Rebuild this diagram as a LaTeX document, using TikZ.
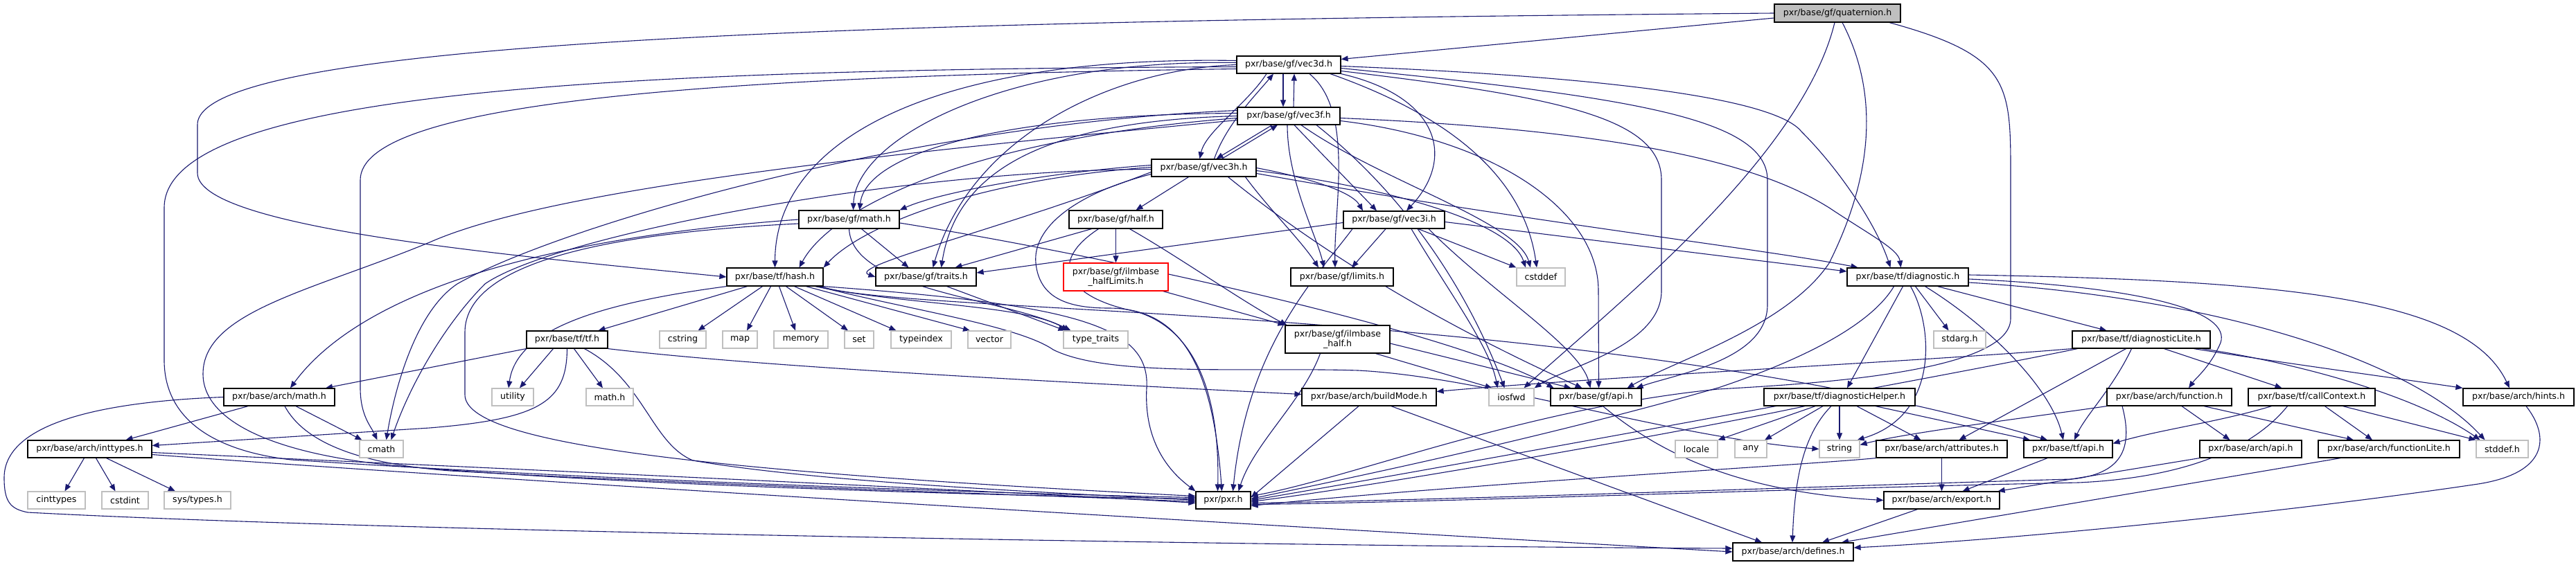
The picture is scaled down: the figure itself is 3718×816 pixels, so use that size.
\documentclass[tikz,border=0pt]{standalone}
\usepackage{fontspec}
\setmainfont{DejaVu Sans}
\usetikzlibrary{arrows.meta}
\definecolor{edgec}{RGB}{25,25,112}
\definecolor{sysgray}{RGB}{191,191,191}
\definecolor{redb}{RGB}{255,0,0}
\newcommand\dgf{\fontsize{12.6}{14.5}\selectfont}
\pgfdeclarelayer{bglayer}
\pgfdeclarelayer{edgelayer}
\pgfsetlayers{bglayer,edgelayer,main}
\begin{document}
\begin{tikzpicture}[x=1pt,y=-1pt,
  box/.style={draw=black,line width=1.2pt,fill=white,inner sep=0pt,font=\dgf,align=center,text=black},
  sys/.style={box,draw=sysgray},
  redbox/.style={box,draw=redb},
  root/.style={box,fill=sysgray},
  e/.style={draw=edgec,line width=1.1pt,-{Triangle[length=10pt,width=8pt]}}]
\begin{pgfonlayer}{bglayer}
\fill[white] (0,0) rectangle (3718,816);
\end{pgfonlayer}
\useasboundingbox (0,0) rectangle (3718,816);
% nodes
\node[root,minimum width=182pt,minimum height=26pt] (Q) at (2652,19) {pxr/base/gf/quaternion.h};
\node[box,minimum width=150pt,minimum height=25pt] (vd) at (1860,93.5) {pxr/base/gf/vec3d.h};
\node[box,minimum width=148pt,minimum height=25pt] (vf) at (1860,167.5) {pxr/base/gf/vec3f.h};
\node[box,minimum width=151pt,minimum height=25pt] (vh) at (1737.5,242.5) {pxr/base/gf/vec3h.h};
\node[box,minimum width=145pt,minimum height=26pt] (gm) at (1225.5,317) {pxr/base/gf/math.h};
\node[box,minimum width=135pt,minimum height=26pt] (half) at (1610.5,317) {pxr/base/gf/half.h};
\node[box,minimum width=146pt,minimum height=25pt] (vi) at (2012,317.5) {pxr/base/gf/vec3i.h};
\node[box,minimum width=139pt,minimum height=26pt] (hash) at (1118.5,400) {pxr/base/tf/hash.h};
\node[box,minimum width=145pt,minimum height=26pt] (tr) at (1336.5,400) {pxr/base/gf/traits.h};
\node[redbox,minimum width=151pt,minimum height=40pt] (hl) at (1610.5,400) {pxr/base/gf/ilmbase\\\_halfLimits.h};
\node[box,minimum width=148pt,minimum height=26pt] (lim) at (1937,400) {pxr/base/gf/limits.h};
\node[sys,minimum width=70pt,minimum height=26pt] (csd) at (2224,400) {cstddef};
\node[box,minimum width=175pt,minimum height=26pt] (diag) at (2753.5,400) {pxr/base/tf/diagnostic.h};
\node[box,minimum width=117pt,minimum height=25pt] (tf) at (818.5,490.5) {pxr/base/tf/tf.h};
\node[sys,minimum width=67pt,minimum height=25pt] (cstr) at (985.5,490.5) {cstring};
\node[sys,minimum width=50pt,minimum height=25pt] (map) at (1068,490.5) {map};
\node[sys,minimum width=78pt,minimum height=25pt] (mem) at (1156,490.5) {memory};
\node[sys,minimum width=42pt,minimum height=25pt] (set) at (1240,490.5) {set};
\node[sys,minimum width=87pt,minimum height=25pt] (tid) at (1329.5,490.5) {typeindex};
\node[sys,minimum width=62pt,minimum height=25pt] (vec) at (1428,490.5) {vector};
\node[sys,minimum width=93pt,minimum height=25pt] (tt) at (1581.5,490.5) {type\_traits};
\node[box,minimum width=151pt,minimum height=40pt] (ih) at (1930.5,490) {pxr/base/gf/ilmbase\\\_half.h};
\node[sys,minimum width=75pt,minimum height=25pt] (stdarg) at (2828.5,490.5) {stdarg.h};
\node[box,minimum width=199pt,minimum height=25pt] (dl) at (3090.5,490.5) {pxr/base/tf/diagnosticLite.h};
\node[box,minimum width=160pt,minimum height=25pt] (am) at (403,573.5) {pxr/base/arch/math.h};
\node[sys,minimum width=60pt,minimum height=25pt] (util) at (740,573.5) {utility};
\node[sys,minimum width=68pt,minimum height=25pt] (mathh) at (880,573.5) {math.h};
\node[box,minimum width=194pt,minimum height=25pt] (bm) at (1976,573.5) {pxr/base/arch/buildMode.h};
\node[sys,minimum width=65pt,minimum height=25pt] (iosfwd) at (2181.5,573.5) {iosfwd};
\node[box,minimum width=131pt,minimum height=25pt] (gapi) at (2303.5,573.5) {pxr/base/gf/api.h};
\node[box,minimum width=218pt,minimum height=25pt] (dh) at (2655,573.5) {pxr/base/tf/diagnosticHelper.h};
\node[box,minimum width=180pt,minimum height=25pt] (func) at (3131,573.5) {pxr/base/arch/function.h};
\node[box,minimum width=183pt,minimum height=25pt] (cc) at (3336.5,573.5) {pxr/base/tf/callContext.h};
\node[box,minimum width=160pt,minimum height=25pt] (hints) at (3635,573.5) {pxr/base/arch/hints.h};
\node[box,minimum width=179pt,minimum height=25pt] (it) at (129.5,648.5) {pxr/base/arch/inttypes.h};
\node[sys,minimum width=63pt,minimum height=25pt] (cmath) at (550.5,648.5) {cmath};
\node[sys,minimum width=61pt,minimum height=25pt] (locale) at (2448.5,648.5) {locale};
\node[sys,minimum width=46pt,minimum height=25pt] (any) at (2527,648.5) {any};
\node[sys,minimum width=58pt,minimum height=25pt] (str) at (2655,648.5) {string};
\node[box,minimum width=189pt,minimum height=25pt] (attr) at (2802.5,648.5) {pxr/base/arch/attributes.h};
\node[box,minimum width=128pt,minimum height=25pt] (tapi) at (2985,648.5) {pxr/base/tf/api.h};
\node[box,minimum width=147pt,minimum height=25pt] (aapi) at (3248.5,648.5) {pxr/base/arch/api.h};
\node[box,minimum width=204pt,minimum height=25pt] (fl) at (3448,648.5) {pxr/base/arch/functionLite.h};
\node[sys,minimum width=75pt,minimum height=25pt] (stddef) at (3611.5,648.5) {stddef.h};
\node[sys,minimum width=83pt,minimum height=25pt] (cit) at (81.5,722.5) {cinttypes};
\node[sys,minimum width=67pt,minimum height=25pt] (cstdint) at (180.5,722.5) {cstdint};
\node[sys,minimum width=96pt,minimum height=25pt] (st) at (285,722.5) {sys/types.h};
\node[box,minimum width=79pt,minimum height=25pt] (pxr) at (1765.5,722.5) {pxr/pxr.h};
\node[box,minimum width=167pt,minimum height=25pt] (exp) at (2802.5,722.5) {pxr/base/arch/export.h};
\node[box,minimum width=174pt,minimum height=26pt] (def) at (2588,797) {pxr/base/arch/defines.h};
\begin{pgfonlayer}{edgelayer}
% quaternion
\draw[e] (Q.west) .. controls (1300,30) and (285,55) .. (285,180) -- (285,250) .. controls (285,330) and (750,370) .. (hash.west);
\draw[e] ([yshift=-7pt]Q.west) -- ([yshift=8pt]vd.east);
\draw[e] ([xshift=-4pt]Q.south) .. controls (2600,230) and (2320,450) .. ([xshift=18pt]iosfwd.north);
\draw[e] ([xshift=7pt]Q.south) .. controls (2715,140) and (2700,260) .. (2640,380) .. controls (2580,470) and (2420,520) .. ([xshift=45pt]gapi.north);
\draw[e] ([xshift=75pt]Q.south) .. controls (2900,80) and (2902,120) .. (2902,250) -- (2902,460) .. controls (2902,540) and (2600,555) .. (2480,562) .. controls (2200,590) and (1950,690) .. ([yshift=6pt]pxr.east);
% vec3d
\draw[e] ([xshift=-8pt]vd.south) -- ([xshift=-8pt]vf.north);
\draw[e] ([xshift=-32pt]vd.south) .. controls (1800,150) and (1740,190) .. ([xshift=-6pt]vh.north);
\draw[e] (vd.south east) .. controls (2080,140) and (2100,230) .. ([xshift=18pt]vi.north);
\draw[e] ([xshift=30pt]vd.south) .. controls (1955,160) and (1925,300) .. ([xshift=-10pt]lim.north);
\draw[e] ([xshift=60pt]vd.south) .. controls (2100,170) and (2200,260) .. ([xshift=-6pt]csd.north);
\draw[e] ([yshift=-2pt]vd.east) .. controls (2300,110) and (2560,140) .. (2600,190) .. controls (2660,250) and (2710,330) .. ([xshift=-25pt]diag.north);
\draw[e] ([yshift=-5pt]vd.east) .. controls (2350,140) and (2551,170) .. (2551,260) -- (2551,440) .. controls (2551,520) and (2420,540) .. ([xshift=58pt]gapi.north);
\draw[e] ([yshift=-9pt]vd.east) .. controls (2250,140) and (2398,170) .. (2398,260) -- (2398,420) .. controls (2398,500) and (2260,530) .. (iosfwd.north east);
\draw[e] (vd.west) .. controls (1600,100) and (1400,200) .. ([xshift=10pt]tr.north);
\draw[e] ([yshift=3pt]vd.west) .. controls (1450,85) and (1235,200) .. ([xshift=6pt]gm.north);
\draw[e] ([yshift=6pt]vd.west) .. controls (1350,80) and (1119,200) .. (hash.north);
\draw[e] ([yshift=-3pt]vd.west) .. controls (900,100) and (237,130) .. (237,300) -- (237,520) .. controls (237,600) and (300,650) .. (420,664) .. controls (800,690) and (1400,712) .. ([yshift=4pt]pxr.west);
\draw[e] ([yshift=-6pt]vd.west) .. controls (1000,110) and (520,150) .. (520,260) -- (520,560) .. controls (520,600) and (535,615) .. ([xshift=-6pt]cmath.north);
% vec3f
\draw[e] ([xshift=7pt]vf.north) -- ([xshift=8pt]vd.south);
\draw[e] ([xshift=-24pt]vf.south) -- ([xshift=18pt]vh.north);
\draw[e] ([xshift=8pt]vf.south) -- ([xshift=-25pt]vi.north);
\draw[e] ([xshift=-2pt]vf.south) .. controls (1858,260) and (1900,340) .. ([xshift=-26pt]lim.north);
\draw[e] ([xshift=18pt]vf.south) .. controls (1990,260) and (2190,320) .. ([xshift=-15pt]csd.north);
\draw[e] ([yshift=-3pt]vf.east) .. controls (2400,190) and (2560,250) .. (2640,300) .. controls (2700,340) and (2740,360) .. ([xshift=-10pt]diag.north);
\draw[e] ([yshift=-7pt]vf.east) .. controls (2150,200) and (2307,300) .. (2307,420) -- ([xshift=4pt]gapi.north);
\draw[e] ([xshift=40pt]vf.south) .. controls (2050,300) and (2130,450) .. ([xshift=-10pt]iosfwd.north);
\draw[e] (vf.west) .. controls (1500,175) and (1380,250) .. ([xshift=22pt]tr.north);
\draw[e] ([yshift=4pt]vf.west) .. controls (1450,165) and (1250,220) .. ([xshift=15pt]gm.north);
\draw[e] ([yshift=-3pt]vf.west) .. controls (1400,200) and (1200,300) .. ([xshift=35pt]hash.north);
\draw[e] ([yshift=-6pt]vf.west) .. controls (1300,220) and (800,270) .. (620,350) .. controls (450,420) and (293,450) .. (293,540) .. controls (293,610) and (400,660) .. (600,675) .. controls (900,700) and (1400,715) .. ([yshift=2pt]pxr.west);
\draw[e] ([yshift=8pt]vf.west) .. controls (1300,180) and (800,330) .. (660,410) .. controls (600,450) and (570,560) .. ([xshift=7pt]cmath.north);
% vec3h
\draw[e] ([xshift=15pt]vh.north) .. controls (1770,180) and (1810,140) .. ([xshift=-22pt]vd.south);
\draw[e] ([xshift=26pt]vh.north) -- ([xshift=-16pt]vf.south);
\draw[e] (vh.east) .. controls (1880,255) and (1950,275) .. ([xshift=-45pt]vi.north);
\draw[e] ([xshift=60pt]vh.south) .. controls (1830,300) and (1880,350) .. ([xshift=-34pt]lim.north);
\draw[e] ([yshift=-4pt]vh.east) .. controls (2000,270) and (2180,320) .. ([xshift=-22pt]csd.north);
\draw[e] ([yshift=-8pt]vh.east) .. controls (2200,320) and (2550,360) .. ([xshift=-72pt]diag.north);
\draw[e] ([xshift=35pt]vh.south) .. controls (1950,400) and (2150,500) .. ([xshift=-20pt]gapi.north);
\draw[e] ([xshift=-22pt]vh.south) -- ([xshift=29pt]half.north);
\draw[e] ([yshift=-6pt]vh.west) .. controls (1450,330) and (1220,385) .. (tr.west);
\draw[e] ([yshift=4pt]vh.west) .. controls (1500,250) and (1350,280) .. (gm.north east);
\draw[e] ([yshift=1pt]vh.west) .. controls (1400,260) and (1240,330) .. (hash.north east);
\draw[e] ([yshift=-2pt]vh.west) .. controls (1300,245) and (800,340) .. (700,410) .. controls (640,470) and (590,560) .. ([xshift=14pt]cmath.north);
\draw[e] ([yshift=-9pt]vh.west) .. controls (1550,280) and (1490,330) .. (1495,380) .. controls (1500,430) and (1540,445) .. (1600,445) .. controls (1700,445) and (1750,520) .. ([xshift=-2pt]pxr.north);
% vec3i
\draw[e] ([xshift=-12pt]vi.south) -- ([xshift=14pt]lim.north);
\draw[e] ([xshift=35pt]vi.south) -- (csd.north west);
\draw[e] ([yshift=-3pt]vi.east) -- ([yshift=8pt]diag.west);
\draw[e] ([yshift=-4pt]vi.west) -- ([yshift=6pt]tr.east);
\draw[e] ([xshift=50pt]vi.south) .. controls (2150,420) and (2280,500) .. ([xshift=-8pt]gapi.north);
\draw[e] ([xshift=25pt]vi.south) .. controls (2090,420) and (2150,500) .. ([xshift=-20pt]iosfwd.north);
\draw[e] ([xshift=-60pt]vi.south) .. controls (1900,400) and (1800,500) .. ([xshift=14pt]pxr.north);
% gf/math
\draw[e] ([xshift=18pt]gm.south) -- ([xshift=-25pt]tr.north);
\draw[e] (gm.west) .. controls (700,350) and (500,450) .. ([xshift=16pt]am.north);
\draw[e] ([yshift=-6pt]gm.west) .. controls (800,340) and (671,400) .. (671,480) -- (671,570) .. controls (671,640) and (1000,680) .. ([yshift=6pt]pxr.west);
\draw[e] ([yshift=-5pt]gm.east) .. controls (1600,370) and (2100,480) .. ([xshift=-61pt]gapi.north);
\draw[e] (gm.south) .. controls (1230,420) and (1450,430) .. ([xshift=-36pt]tt.north);
% half
\draw[e] ([xshift=-35pt]half.south) -- ([xshift=42pt]tr.north);
\draw[e] (half.south) -- (hl.north);
\draw[e] ([xshift=20pt]half.south) .. controls (1700,370) and (1800,440) .. ([xshift=3pt]ih.north west);
\draw[e] ([xshift=-25pt]half.south) .. controls (1510,380) and (1540,430) .. (1640,450) .. controls (1740,480) and (1760,600) .. ([xshift=-8pt]pxr.north);
\draw[e] ([xshift=-8pt]hl.south east) -- (ih.north west);
% hash
\draw[e] ([xshift=-40pt]hash.south) -- ([xshift=45pt]tf.north);
\draw[e] ([xshift=-18pt]hash.south) -- ([xshift=22pt]cstr.north);
\draw[e] ([xshift=-6pt]hash.south) -- ([xshift=10pt]map.north);
\draw[e] ([xshift=6pt]hash.south) -- ([xshift=-8pt]mem.north);
\draw[e] ([xshift=16pt]hash.south) -- ([xshift=-16pt]set.north);
\draw[e] ([xshift=28pt]hash.south) -- ([xshift=-36pt]tid.north);
\draw[e] ([xshift=45pt]hash.south) -- ([xshift=-28pt]vec.north);
\draw[e] ([xshift=-12pt]hash.south east) .. controls (1300,440) and (1480,440) .. ([xshift=-40pt]tt.north);
\draw[e] ([xshift=-8pt]hash.south east) .. controls (1300,445) and (1470,470) .. (1520,505) .. controls (1600,545) and (1800,530) .. (1960,535) .. controls (2150,545) and (2400,630) .. (str.west);
\draw[e] ([xshift=-4pt]hash.south east) .. controls (1300,455) and (2300,440) .. ([xshift=-30pt]tapi.north);
\draw[e] (hash.south east) .. controls (1550,440) and (1660,470) .. (1655,560) .. controls (1650,650) and (1700,690) .. (pxr.north west);
\draw[e] (hash.south west) .. controls (850,440) and (745,480) .. ([xshift=-6pt]util.north);
\draw[e] ([xshift=30pt]tr.south) -- ([xshift=-44pt]tt.north);
% tf
\draw[e] ([xshift=-20pt]tf.south) -- ([xshift=10pt]util.north);
\draw[e] ([xshift=10pt]tf.south) -- ([xshift=-10pt]mathh.north);
\draw[e] (tf.south west) -- ([xshift=67pt]am.north);
\draw[e] (tf.south) .. controls (818,580) and (780,605) .. (620,618) -- ([yshift=5pt]it.east);
\draw[e] (tf.south east) .. controls (1100,530) and (1500,550) .. ([yshift=4pt]bm.west);
\draw[e] ([xshift=25pt]tf.south) .. controls (930,550) and (940,640) .. (1000,665) .. controls (1200,700) and (1600,715) .. (pxr.west);
% arch/math
\draw[e] ([xshift=-45pt]am.south) -- ([xshift=52pt]it.north);
\draw[e] ([xshift=24pt]am.south) -- ([xshift=-28pt]cmath.north);
\draw[e] ([xshift=8pt]am.south) .. controls (440,640) and (520,670) .. (650,680) .. controls (1000,700) and (1500,715) .. ([yshift=-2pt]pxr.west);
\draw[e] (am.west) .. controls (150,580) and (6,610) .. (6,690) .. controls (6,725) and (15,735) .. (40,740) .. controls (600,770) and (2000,790) .. ([yshift=5pt]def.west);
% inttypes
\draw[e] ([xshift=-8pt]it.south) -- ([xshift=12pt]cit.north);
\draw[e] ([xshift=9pt]it.south) -- ([xshift=-14pt]cstdint.north);
\draw[e] ([xshift=24pt]it.south) -- ([xshift=-32pt]st.north);
\draw[e] ([yshift=-5pt]it.east) .. controls (800,680) and (1500,712) .. ([yshift=-4pt]pxr.west);
\draw[e] ([yshift=-8pt]it.east) .. controls (800,700) and (2200,780) .. (def.west);
% buildMode, gf/api, ilmbase_half
\draw[e] ([xshift=-15pt]bm.south) -- ([yshift=4pt]pxr.east);
\draw[e] ([xshift=32pt]bm.south) -- ([xshift=-45pt]def.north);
\draw[e] ([xshift=10pt]gapi.south) .. controls (2390,650) and (2500,710) .. (exp.west);
\draw[e] ([xshift=-25pt]ih.south) .. controls (1880,580) and (1810,640) .. ([xshift=22pt]pxr.north);
\draw[e] ([xshift=55pt]ih.south) -- ([xshift=-28pt]iosfwd.north);
\draw[e] ([yshift=-6pt]ih.east) -- ([xshift=-36pt]gapi.north);
% diagnostic
\draw[e] ([xshift=-7pt]diag.south) -- ([xshift=11pt]dh.north);
\draw[e] ([xshift=4pt]diag.south) .. controls (2790,470) and (2800,600) .. ([xshift=-4pt]str.north east);
\draw[e] ([xshift=11pt]diag.south) -- ([xshift=-16pt]stdarg.north);
\draw[e] ([xshift=25pt]diag.south) .. controls (2870,470) and (2960,560) .. ([xshift=-7pt]tapi.north);
\draw[e] ([xshift=43pt]diag.south) -- ([xshift=-50pt]dl.north);
\draw[e] ([yshift=3pt]diag.east) .. controls (3300,405) and (3560,430) .. ([xshift=-13pt]hints.north);
\draw[e] ([yshift=-3pt]diag.east) .. controls (3100,415) and (3220,450) .. (3205,495) .. controls (3190,530) and (3170,545) .. ([xshift=28pt]func.north);
\draw[e] ([yshift=-8pt]diag.east) .. controls (3200,430) and (3480,520) .. ([xshift=-25pt]stddef.north);
\draw[e] ([xshift=-20pt]diag.south) .. controls (2700,470) and (2600,520) .. (2480,560) .. controls (2200,640) and (1900,700) .. ([yshift=2pt]pxr.east);
% diagnosticLite
\draw[e] (dl.south west) .. controls (2800,520) and (2300,545) .. ([yshift=8pt]bm.east);
\draw[e] ([xshift=8pt]dl.south west) .. controls (2800,545) and (2000,690) .. (pxr.east);
\draw[e] ([xshift=-22pt]dl.south) -- ([xshift=25pt]attr.north);
\draw[e] ([xshift=-14pt]dl.south) .. controls (3050,560) and (3010,600) .. ([xshift=9pt]tapi.north);
\draw[e] ([xshift=33pt]dl.south) -- ([xshift=-43pt]cc.north);
\draw[e] ([xshift=76pt]dl.south) .. controls (3300,525) and (3450,545) .. (hints.north west);
\draw[e] ([xshift=88pt]dl.south) .. controls (3350,530) and (3500,580) .. ([xshift=-32pt]stddef.north);
% diagnosticHelper
\draw[e] ([xshift=-50pt]dh.south) .. controls (2450,620) and (2000,700) .. ([yshift=-2pt]pxr.east);
\draw[e] ([xshift=-35pt]dh.south) -- (locale.north east);
\draw[e] ([xshift=-24pt]dh.south) -- ([xshift=20pt]any.north);
\draw[e] (dh.south) -- (str.north);
\draw[e] ([xshift=25pt]dh.south) -- ([xshift=-30pt]attr.north);
\draw[e] ([xshift=52pt]dh.south) -- ([xshift=-55pt]tapi.north);
\draw[e] ([xshift=-12pt]dh.south) .. controls (2600,630) and (2590,700) .. ([xshift=-1pt]def.north);
% function, callContext, hints
\draw[e] (func.south west) .. controls (2950,600) and (2750,625) .. ([yshift=6pt]str.east);
\draw[e] ([xshift=-68pt]func.south) .. controls (3080,650) and (3060,685) .. (2990,692) .. controls (2700,700) and (2100,722) .. ([yshift=-4pt]pxr.east);
\draw[e] ([xshift=18pt]func.south) -- ([xshift=-30pt]aapi.north);
\draw[e] ([xshift=50pt]func.south) -- ([xshift=-51pt]fl.north);
\draw[e] ([xshift=-58pt]cc.south) .. controls (3200,610) and (3120,620) .. ([yshift=8pt]tapi.east);
\draw[e] ([xshift=-35pt]cc.south) .. controls (3250,650) and (3150,690) .. (3000,697) .. controls (2600,705) and (2100,725) .. ([yshift=-6pt]pxr.east);
\draw[e] ([xshift=19pt]cc.south) -- ([xshift=-24pt]fl.north);
\draw[e] ([xshift=45pt]cc.south) -- (stddef.north west);
\draw[e] ([xshift=11pt]hints.south) .. controls (3680,630) and (3680,685) .. (3570,700) .. controls (3300,740) and (2900,780) .. ([yshift=6pt]def.east);
% lower arch
\draw[e] (attr.south) -- (exp.north);
\draw[e] (attr.south west) .. controls (2600,672) and (2100,700) .. ([yshift=-8pt]pxr.east);
\draw[e] ([xshift=-30pt]tapi.south) -- ([xshift=30pt]exp.north);
\draw[e] (aapi.south west) -- ([xshift=-3pt]exp.north east);
\draw[e] ([xshift=-70pt]fl.south) -- ([xshift=70pt]def.north);
\draw[e] ([xshift=-35pt]exp.south) -- ([xshift=42pt]def.north);
\end{pgfonlayer}
\end{tikzpicture}
\end{document}
